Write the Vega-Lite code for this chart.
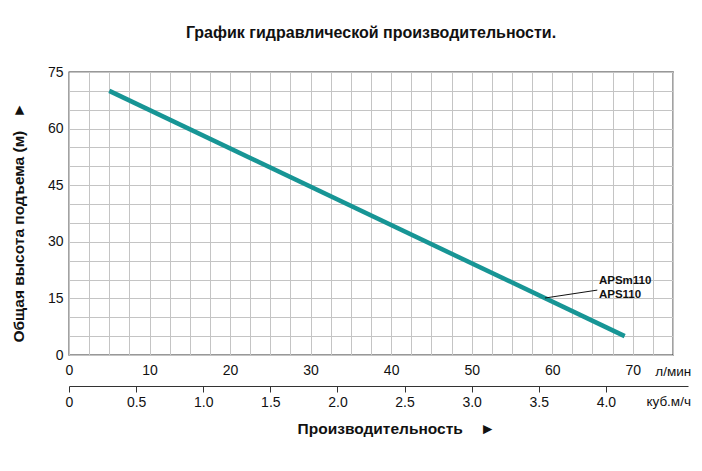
{
  "$schema": "https://vega.github.io/schema/vega-lite/v6.json",
  "width": 604,
  "height": 283,
  "autosize": "none",
  "padding": {"left": 69, "top": 72, "right": 29, "bottom": 116},
  "background": "white",
  "config": {
    "view": {"stroke": "#333333", "strokeWidth": 1.3},
    "font": "Liberation Sans",
    "axis": {"labelFont": "Liberation Sans", "titleFont": "Liberation Sans", "labelColor": "#111111", "titleColor": "#111111", "labelFlush": false}
  },
  "title": {
    "text": "График гидравлической производительности.",
    "fontSize": 16,
    "fontWeight": "bold",
    "color": "#111111",
    "anchor": "middle",
    "offset": 24
  },
  "datasets": {
    "curve": [
      {"q": 5, "h": 70},
      {"q": 69, "h": 5}
    ],
    "leader": [
      {"q": 59.1, "h": 15.1, "q2": 65.6, "h2": 17.2}
    ],
    "models": [
      {"q": 65.8, "h": 19.5, "label": "APSm110"},
      {"q": 65.8, "h": 15.9, "label": "APS110"}
    ],
    "units": [
      {"q": 72.8, "h": -4.5, "label": "л/мин"},
      {"q": 71.7, "h": -12.5, "label": "куб.м/ч"}
    ],
    "cubic": [
      {"m": 0},
      {"m": 4.5}
    ]
  },
  "layer": [
    {
      "encoding": {
        "x": {
          "field": "q",
          "type": "quantitative",
          "scale": {"domain": [0, 75], "nice": false},
          "axis": {
            "values": [0, 2.5, 5, 7.5, 10, 12.5, 15, 17.5, 20, 22.5, 25, 27.5, 30, 32.5, 35, 37.5, 40, 42.5, 45, 47.5, 50, 52.5, 55, 57.5, 60, 62.5, 65, 67.5, 70, 72.5, 75],
            "labelExpr": "datum.value % 10 === 0 && datum.value <= 70 ? datum.label : ''",
            "labelOverlap": false,
            "ticks": false,
            "domain": false,
            "grid": true,
            "gridColor": "#c4c4c4",
            "labelFontSize": 14,
            "labelPadding": 8,
            "title": null
          }
        },
        "y": {
          "field": "h",
          "type": "quantitative",
          "scale": {"domain": [0, 75], "nice": false},
          "axis": {
            "values": [0, 5, 10, 15, 20, 25, 30, 35, 40, 45, 50, 55, 60, 65, 70, 75],
            "labelExpr": "datum.value % 15 === 0 ? datum.label : ''",
            "labelOverlap": false,
            "ticks": false,
            "domain": false,
            "grid": true,
            "gridColor": "#c4c4c4",
            "labelFontSize": 14,
            "labelPadding": 6,
            "title": "Общая высота подъема (м)\u00a0\u00a0\u00a0►",
            "titleFontSize": 15.5,
            "titleFontWeight": "bold",
            "titleX": -51,
            "titleY": 150,
            "titleAngle": -90,
            "titleAlign": "center",
            "titleBaseline": "middle"
          }
        }
      },
      "layer": [
        {
          "data": {"name": "curve"},
          "mark": {"type": "line", "color": "#179595", "strokeWidth": 4.5}
        },
        {
          "data": {"name": "leader"},
          "mark": {"type": "rule", "color": "#111111", "strokeWidth": 1},
          "encoding": {
            "x2": {"field": "q2"},
            "y2": {"field": "h2"}
          }
        },
        {
          "data": {"name": "models"},
          "mark": {"type": "text", "align": "left", "baseline": "middle", "fontSize": 11.5, "fontWeight": "bold", "color": "#111111"},
          "encoding": {
            "text": {"field": "label"}
          }
        },
        {
          "data": {"name": "units"},
          "mark": {"type": "text", "align": "left", "baseline": "middle", "fontSize": 13.5, "color": "#111111"},
          "encoding": {
            "text": {"field": "label"}
          }
        }
      ]
    },
    {
      "data": {"name": "cubic"},
      "mark": {"type": "point", "opacity": 0},
      "encoding": {
        "x": {
          "field": "m",
          "type": "quantitative",
          "scale": {"domain": [0, 4.6117], "range": [0, 619], "nice": false, "zero": false},
          "axis": {
            "orient": "bottom",
            "values": [0, 0.5, 1, 1.5, 2, 2.5, 3, 3.5, 4],
            "labelExpr": "datum.value === 0 ? '0' : format(datum.value, '.1f')",
            "labelOverlap": false,
            "offset": 31,
            "grid": false,
            "domainColor": "#333333",
            "tickColor": "#333333",
            "tickSize": 6,
            "labelFontSize": 14,
            "labelPadding": 3,
            "title": "Производительность\u00a0\u00a0\u00a0\u00a0►",
            "titleFontSize": 15.5,
            "titleFontWeight": "bold",
            "titleX": 327,
            "titleY": 42,
            "titleAlign": "center",
            "titleBaseline": "middle"
          }
        }
      }
    }
  ],
  "resolve": {"scale": {"x": "independent"}}
}
